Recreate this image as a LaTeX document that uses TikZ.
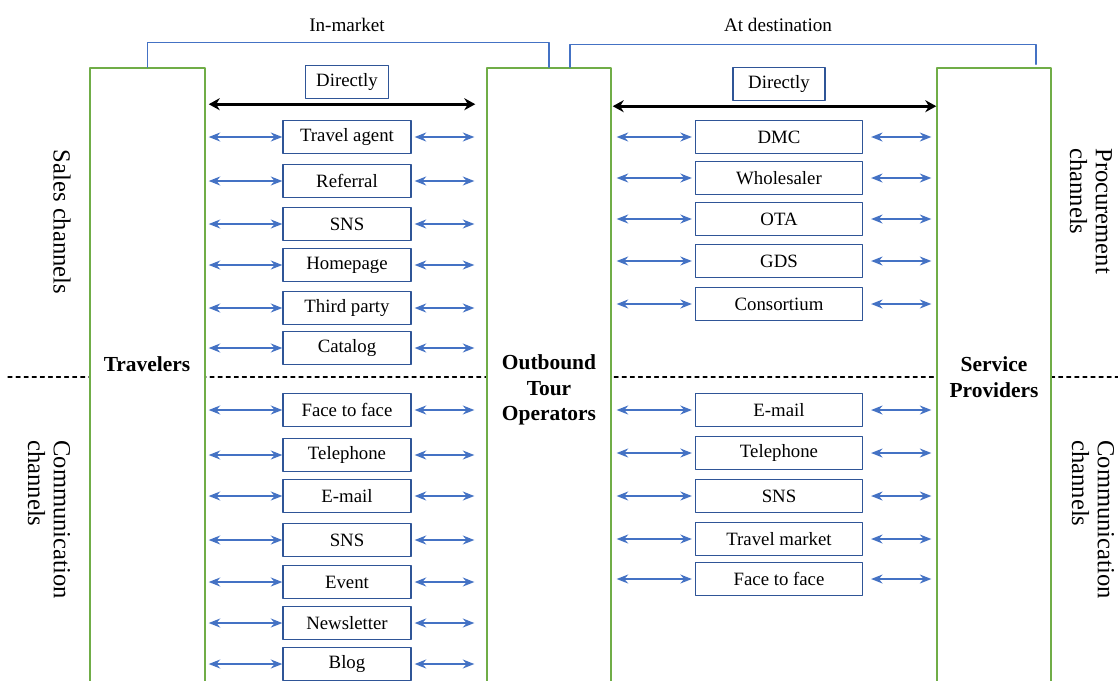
\documentclass[tikz,border=0pt]{standalone}
\usepackage{fontspec}
\setmainfont{Liberation Serif}
\usetikzlibrary{arrows.meta,calc,positioning}
\definecolor{colgreen}{HTML}{70AD47}
\definecolor{chanblue}{HTML}{4472C4}
\definecolor{boxblue}{HTML}{2F5597}
\tikzset{
  every picture/.append style={line cap=round,line join=round},
  dist col/.style={draw=colgreen,line width=0.85pt,fill=white,minimum height=12.64cm,inner sep=0pt},
  dist name/.style={font=\fontsize{12.2}{14.7}\selectfont\bfseries,align=center},
  dist box/.style={draw=boxblue,line width=0.8pt,fill=white,minimum height=0.66cm,inner sep=1pt,font=\fontsize{10.7}{12}\selectfont},
  dist arrow/.style={chanblue,line width=0.9pt,{Stealth[length=2.3mm,width=1.8mm]}-{Stealth[length=2.3mm,width=1.8mm]}},
  dist direct/.style={black,line width=1.5pt,{Stealth[length=2.2mm,width=2.4mm]}-{Stealth[length=2.2mm,width=2.4mm]}},
  dist scope/.style={chanblue,line width=0.7pt},
  dist note/.style={font=\fontsize{10.9}{13}\selectfont},
  dist side/.style={font=\fontsize{14}{14.7}\selectfont,rotate=-90,align=left,inner sep=0pt},
  dist split/.style={black,line width=0.6pt,dash pattern=on 2.3pt off 2.3pt}
}

\begin{document}
\begin{tikzpicture}[x=0.02cm,y=-0.02cm]
\useasboundingbox (0,0) rectangle (1118,680);
% split between sales / communication
\draw[dist split] (8,377) -- (1118,377);
% the three actors
\node[dist col,minimum width=2.3cm] (trav) at (147.5,384) {};
\node[dist col,minimum width=2.48cm] (oto) at (549,384) {};
\node[dist col,minimum width=2.28cm] (sp) at (994,384) {};
\node[dist name] (travlbl) at (147,364) {Travelers};
\node[dist name] (otolbl) at (549,390) {Outbound\\Tour\\Operators};
\node[dist name] (splbl) at (994,377) {Service\\Providers};
% scope brackets
\draw[dist scope] (trav.north) -- ++(0,-25) -| (oto.north);
\node[dist note] (inmkt) at (347,25) {In-market};
\draw[dist scope] ($(oto.north)+(21,0)$) -- ++(0,-23) -| ($(sp.north)+(42,-3)$);
\node[dist note] (atdest) at (778,25) {At destination};
% direct links
\node[dist box,minimum width=1.66cm] (dirL) at (347,82) {Directly};
\node[dist box,minimum width=1.84cm] (dirR) at (779,84) {Directly};
\draw[dist direct] ($(dirL.south -| trav.east)+(3,5)$) -- ($(dirL.south -| oto.west)+(-11,5)$);
\draw[dist direct] ($(dirR.south -| oto.east)+(1,5)$) -- ($(dirR.south -| sp.west)+(0,5)$);
% travelers <-> tour operators
\foreach \nm/\txt/\yy in {ta/Travel agent/137,rf/Referral/181,snsa/SNS/224,hp/Homepage/265,tp/Third party/308,cat/Catalog/348,
  ftfa/Face to face/410,tela/Telephone/455,mla/E-mail/496,snsb/SNS/540,ev/Event/582,nl/Newsletter/623,blog/Blog/664} {
  \node[dist box,minimum width=2.56cm] (\nm) at (347,\yy) {\txt};
  \draw[dist arrow,shorten <=1.7pt] (\nm.west -| trav.east) -- (\nm.west);
  \draw[dist arrow,shorten <=1.7pt,shorten >=6.8pt] (\nm.east) -- (\nm.east -| oto.west);
}
% tour operators <-> service providers
\foreach \nm/\txt/\yy in {dmc/DMC/137,ws/Wholesaler/178,ota/OTA/219,gds/GDS/261,cons/Consortium/304,
  mlb/E-mail/410,telb/Telephone/453,snsc/SNS/496,tm/Travel market/539,ftfb/Face to face/579} {
  \node[dist box,minimum width=3.34cm] (\nm) at (779,\yy) {\txt};
  \draw[dist arrow,shorten <=2.8pt,shorten >=1.7pt] (\nm.west -| oto.east) -- (\nm.west);
  \draw[dist arrow,shorten <=4.5pt,shorten >=2.8pt] (\nm.east) -- (\nm.east -| sp.west);
}
% channel groups
\node[dist side] (sales) at (62,222) {Sales channels};
\node[dist side,anchor=west] (commL) at (49,440) {Communication\\channels};
\node[dist side,anchor=west] (proc) at (1091,148) {Procurement\\channels};
\node[dist side,anchor=west] (commR) at (1093,440) {Communication\\channels};
\end{tikzpicture}
\end{document}
